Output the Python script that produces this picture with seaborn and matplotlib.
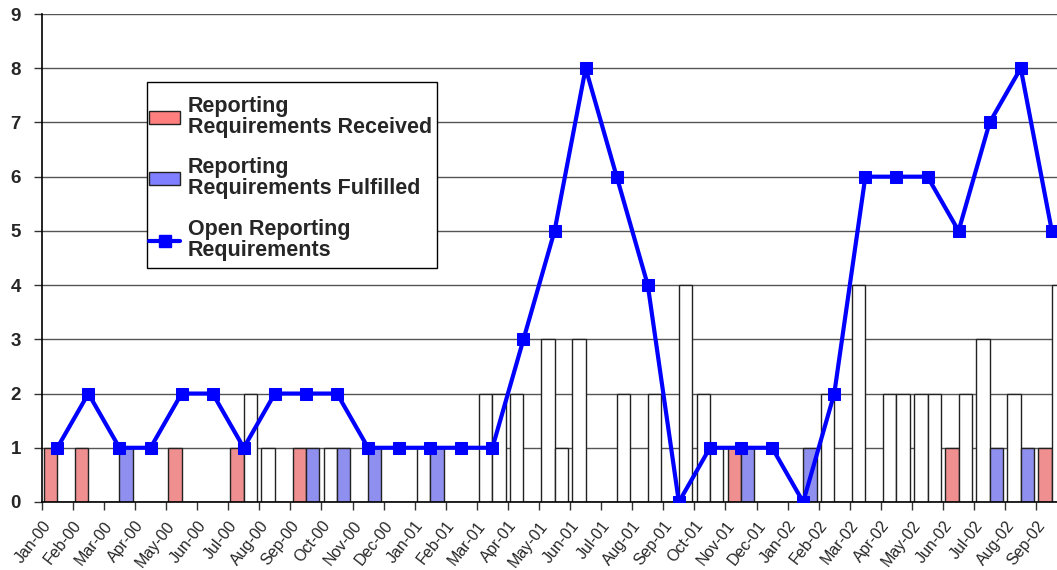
import seaborn as sns
import matplotlib.pyplot as plt
import pandas as pd
import numpy as np
from matplotlib.patches import Patch, Rectangle
from matplotlib.lines import Line2D
from matplotlib.transforms import ScaledTranslation

months = ['Jan-00', 'Feb-00', 'Mar-00', 'Apr-00', 'May-00', 'Jun-00', 'Jul-00', 'Aug-00',
          'Sep-00', 'Oct-00', 'Nov-00', 'Dec-00', 'Jan-01', 'Feb-01', 'Mar-01', 'Apr-01',
          'May-01', 'Jun-01', 'Jul-01', 'Aug-01', 'Sep-01', 'Oct-01', 'Nov-01', 'Dec-01',
          'Jan-02', 'Feb-02', 'Mar-02', 'Apr-02', 'May-02', 'Jun-02', 'Jul-02', 'Aug-02',
          'Sep-02']
received = [1, 1, 0, 0, 1, 0, 1, 1, 1, 1, 0, 0, 1, 0, 2, 2, 3, 3, 0, 0, 0, 2, 1, 0,
            0, 2, 4, 2, 2, 1, 3, 2, 1]
fulfilled = [0, 0, 1, 0, 0, 0, 2, 0, 1, 1, 1, 0, 1, 0, 2, 0, 1, 0, 2, 2, 4, 1, 1, 0,
             1, 0, 0, 2, 2, 2, 1, 1, 4]
open_reqs = [1, 2, 1, 1, 2, 2, 1, 2, 2, 2, 1, 1, 1, 1, 1, 3, 5, 8, 6, 4, 0, 1, 1, 1,
             0, 2, 6, 6, 6, 5, 7, 8, 5]
# bars whose fill pattern actually shows in the original (the rest print blank)
received_shaded = ['Jan-00', 'Feb-00', 'May-00', 'Jul-00', 'Sep-00', 'Nov-01', 'Jun-02', 'Sep-02']
fulfilled_shaded = ['Mar-00', 'Sep-00', 'Oct-00', 'Nov-00', 'Jan-01', 'Nov-01', 'Jan-02',
                    'Jul-02', 'Aug-02']

lbl_rec = 'Reporting\nRequirements Received'
lbl_ful = 'Reporting\nRequirements Fulfilled'
lbl_open = 'Open Reporting\nRequirements'

df = pd.DataFrame({'Month': months * 2,
                   'Value': received + fulfilled,
                   'Series': [lbl_rec] * len(months) + [lbl_ful] * len(months)})

sns.set_style('white')
plt.rcParams['font.family'] = ['Liberation Sans', 'DejaVu Sans']

fig = plt.figure(figsize=(10.57, 5.70), dpi=100)
ax = fig.add_axes([0.0395, 0.1193, 0.9703, 0.8561])

red = '#FF7F7F'
blue = '#7F7FFF'
sns.barplot(data=df, x='Month', y='Value', hue='Series', palette=[red, blue],
            width=0.86, ax=ax, edgecolor='#222222', linewidth=1.0, legend=False, zorder=2)

shaded = [received_shaded, fulfilled_shaded]
for k, cont in enumerate(ax.containers):
    for m, bar in zip(months, cont):
        if m not in shaded[k]:
            bar.set_facecolor('white')

sns.lineplot(x=np.arange(len(months)), y=open_reqs, ax=ax, color='#0000FF', linewidth=3.0,
             marker='s', markersize=8, markeredgecolor='#0000FF', zorder=4)

ax.set_xlim(-0.5, len(months) - 0.5)
ax.set_ylim(0, 9)
ax.set_yticks(range(10))
ax.yaxis.grid(True, color='#555555', linewidth=1.0)
ax.set_axisbelow(True)
for s in ['top', 'right']:
    ax.spines[s].set_visible(False)
for s in ['left', 'bottom']:
    ax.spines[s].set_color('black')
    ax.spines[s].set_linewidth(1.2)

ax.set_xlabel('')
ax.set_ylabel('')
ax.set_xticks(np.arange(len(months)) - 0.5)
ax.set_xticklabels(months, rotation=52, ha='right', va='center', rotation_mode='anchor',
                   fontsize=11.5)
ax.tick_params(axis='x', direction='out', length=6, width=1, color='#333333', pad=9, bottom=True)
ax.tick_params(axis='y', direction='out', length=6, width=1, color='#333333', pad=9, left=True,
               labelsize=13.5)
for t in ax.get_yticklabels():
    t.set_fontweight('bold')
shift = ScaledTranslation(0.06, 0, fig.dpi_scale_trans)
for t in ax.get_xticklabels():
    t.set_transform(t.get_transform() + shift)

# legend box drawn separately so its padding can match the original
fig.add_artist(Rectangle((0.1391, 0.5298), 0.2744, 0.3263, transform=fig.transFigure,
                         facecolor='white', edgecolor='black', linewidth=1.0, zorder=4))
handles = [Patch(facecolor=red, edgecolor='#222222', label=lbl_rec),
           Patch(facecolor=blue, edgecolor='#222222', label=lbl_ful),
           Line2D([0], [0], color='#0000FF', linewidth=3.0, marker='s', markersize=8,
                  label=lbl_open)]
leg = fig.legend(handles=handles, loc='upper left', bbox_to_anchor=(0.1410, 0.8317),
                 borderaxespad=0, borderpad=0, frameon=False,
                 prop={'weight': 'bold', 'size': 15.5},
                 handlelength=1.45, handleheight=0.55, labelspacing=0.9,
                 handletextpad=0.35)
for t in leg.get_texts():
    t.set_linespacing(1.0)

fig.savefig('out.png', dpi=100)
